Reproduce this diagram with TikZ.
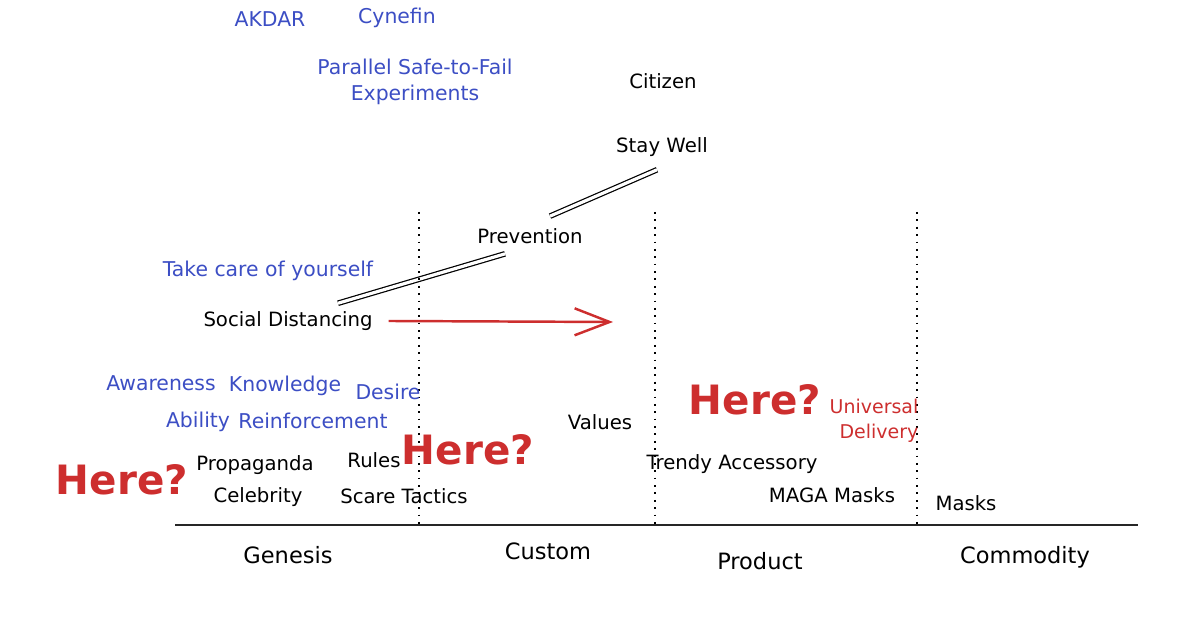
\documentclass[tikz,border=0pt]{standalone}
\usepackage{fontspec}
\setmainfont{DejaVu Sans}
\usetikzlibrary{arrows.meta}
\definecolor{mapblue}{RGB}{60,78,196}
\definecolor{mapred}{RGB}{205,46,46}
\begin{document}
\begin{tikzpicture}[
    comp/.style={inner sep=1pt, font=\fontsize{5.6}{7}\selectfont},
    idea/.style={inner sep=1pt, text=mapblue, font=\fontsize{5.8}{7.6}\selectfont},
    here/.style={inner sep=1pt, text=mapred, font=\fontsize{11.5}{14}\selectfont\bfseries},
    note/.style={inner sep=1pt, text=mapred, font=\fontsize{5.4}{7}\selectfont},
    stage/.style={inner sep=1pt, font=\fontsize{6.4}{8}\selectfont},
    link/.style={double, double distance=0.9pt, line width=0.35pt},
    phase/.style={dash pattern=on 0.5pt off 1.6pt, line width=0.8pt}
]
\useasboundingbox (0,0) rectangle (12,6.21);
% Frameworks
\node[idea] (akdar) at (2.70,6.02) {AKDAR};
\node[idea] (cyn) at (3.97,6.03) {Cynefin};
\node[idea, align=center] (exp) at (4.15,5.39) {Parallel Safe-to-Fail\\Experiments};
% Value chain
\node[comp] (cit) at (6.63,5.40) {Citizen};
\node[comp] (sw) at (6.62,4.74) {Stay Well};
\node[comp] (prev) at (5.30,3.85) {Prevention};
\node[idea] (care) at (2.68,3.50) {Take care of yourself};
\node[comp] (sd) at (2.88,3.00) {Social Distancing};
\draw[link] ([xshift=5mm,yshift=0.4mm]sd.north) -- ([xshift=-2.5mm,yshift=-0.6mm]prev.south);
\draw[link] ([xshift=2mm,yshift=0.8mm]prev.north) -- ([xshift=-0.5mm,yshift=-0.9mm]sw.south);
% Movement
\coordinate (sdnext) at (6.13,2.99);
\draw[mapred, line width=0.7pt, -{Straight Barb[length=3.5mm,width=2.7mm]}] ([xshift=1.2mm]sd.east) -- (sdnext);
% Evolution axis
\draw[phase] (4.19,4.09) -- (4.19,0.96);
\draw[phase] (6.55,4.09) -- (6.55,0.96);
\draw[phase] (9.17,4.09) -- (9.17,0.96);
\draw[line width=0.8pt, black!85] (1.75,0.96) -- (11.38,0.96);
\node[stage] (gen) at (2.88,0.66) {Genesis};
\node[stage] (cus) at (5.48,0.70) {Custom};
\node[stage] (prod) at (7.60,0.60) {Product};
\node[stage] (comm) at (10.25,0.64) {Commodity};
% ADKAR steps
\node[idea] (aw) at (1.61,2.38) {Awareness};
\node[idea] (kn) at (2.85,2.35) {Knowledge};
\node[idea] (de) at (3.88,2.29) {Desire};
\node[idea] (ab) at (1.98,1.99) {Ability};
\node[idea] (re) at (3.13,2.00) {Reinforcement};
% Components near the bottom
\node[comp] (prop) at (2.55,1.56) {Propaganda};
\node[comp] (rules) at (3.74,1.61) {Rules};
\node[comp] (celeb) at (2.58,1.24) {Celebrity};
\node[comp] (scare) at (4.04,1.25) {Scare Tactics};
\node[comp] (val) at (6.00,1.99) {Values};
\node[comp] (trendy) at (7.32,1.57) {Trendy Accessory};
\node[comp] (maga) at (8.32,1.26) {MAGA Masks};
\node[comp] (masks) at (9.66,1.18) {Masks};
\node[note, align=right] (univ) at (8.74,2.00) {Universal\\Delivery};
% Question marks
\node[here] (here1) at (1.22,1.41) {Here?};
\node[here] (here2) at (4.68,1.71) {Here?};
\node[here] (here3) at (7.55,2.21) {Here?};
\end{tikzpicture}
\end{document}
